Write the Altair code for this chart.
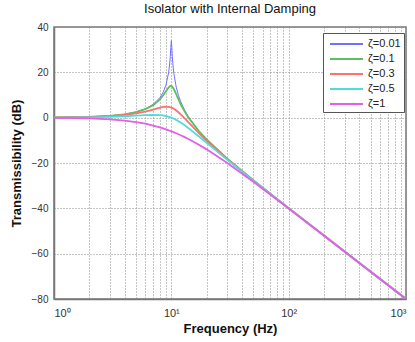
import altair as alt
import pandas as pd

freq = [1, 2, 3, 4, 5, 6, 7, 8, 8.5, 9, 9.5, 9.7, 9.8, 9.9, 10, 10.1, 10.2, 10.3,
        10.5, 11, 11.5, 12, 13, 14, 17, 20, 30, 50, 100, 200, 500, 1000]

t_001 = [0.09, 0.35, 0.82, 1.51, 2.50, 3.88, 5.85, 8.87, 11.12, 14.39, 20.06, 24.12,
         27.10, 31.04, 33.98, 30.91, 26.89, 23.84, 19.61, 13.51, 9.81, 7.12, 3.22,
         0.35, -5.53, -9.54, -18.06, -27.60, -39.91, -52.02, -67.96, -80.00]
t_01 = [0.09, 0.35, 0.80, 1.48, 2.42, 3.73, 5.53, 8.09, 9.75, 11.64, 13.41, 13.86,
        13.98, 14.02, 13.98, 13.85, 13.64, 13.36, 12.63, 10.34, 8.04, 6.00, 2.65,
        0.00, -5.67, -9.62, -18.09, -27.61, -39.92, -52.02, -67.96, -80.00]
t_03 = [0.07, 0.29, 0.65, 1.17, 1.85, 2.68, 3.60, 4.44, 4.72, 4.85, 4.76, 4.66,
        4.59, 4.52, 4.44, 4.35, 4.25, 4.14, 3.90, 3.19, 2.37, 1.48, -0.35,
        -2.11, -6.64, -10.19, -18.28, -27.67, -39.93, -52.02, -67.96, -80.00]
t_05 = [0.04, 0.17, 0.37, 0.63, 0.90, 1.14, 1.25, 1.14, 0.97, 0.73, 0.40, 0.25,
        0.17, 0.09, 0.00, -0.09, -0.18, -0.27, -0.47, -0.98, -1.54, -2.13, -3.36,
        -4.60, -8.10, -11.14, -18.63, -27.79, -39.96, -52.03, -67.96, -80.00]
t_1 = [-0.09, -0.34, -0.75, -1.29, -1.94, -2.67, -3.46, -4.30, -4.72, -5.15, -5.59,
       -5.76, -5.85, -5.93, -6.02, -6.11, -6.20, -6.28, -6.46, -6.89, -7.32, -7.75,
       -8.60, -9.43, -11.80, -13.98, -20.00, -28.30, -40.09, -52.06, -67.96, -80.00]

labels = ["ζ=0.01", "ζ=0.1", "ζ=0.3", "ζ=0.5", "ζ=1"]
series = [t_001, t_01, t_03, t_05, t_1]
colors = ["#7070ff", "#5fbf5f", "#ff7070", "#50dcdc", "#e060e8"]
widths = [1.0, 1.8, 1.8, 1.8, 1.8]

x_grid = [1, 2, 3, 4, 5, 6, 7, 8, 9, 10, 20, 30, 40, 50, 60, 70, 80, 90,
          100, 200, 300, 400, 500, 600, 700, 800, 900, 1000]
y_ticks = [-80, -60, -40, -20, 0, 20, 40]

rows = []
for lab, vals, w in zip(labels, series, widths):
    for f, v in zip(freq, vals):
        rows.append({"f": f, "T": v, "zeta": lab, "w": w})
df = pd.DataFrame(rows)

lines = alt.Chart(df).mark_line(clip=True).encode(
    x=alt.X("f:Q",
            scale=alt.Scale(type="log", domain=[1, 1000], nice=False),
            axis=alt.Axis(values=x_grid, title="Frequency (Hz)",
                          labelExpr="datum.value == 1 ? '10⁰' : datum.value == 10 ? '10¹' : datum.value == 100 ? '10²' : datum.value == 1000 ? '10³' : ''",
                          grid=True, gridDash=[1, 2], gridColor="#8a8a8a",
                          gridOpacity=1, tickSize=0, labelPadding=8,
                          labelFontSize=11, titlePadding=4)),
    y=alt.Y("T:Q",
            scale=alt.Scale(domain=[-80, 40], nice=False),
            axis=alt.Axis(values=y_ticks, title="Transmissibility (dB)",
                          grid=True, gridDash=[1, 2], gridColor="#8a8a8a",
                          gridOpacity=1, tickSize=0, labelPadding=6,
                          titlePadding=8)),
    color=alt.Color("zeta:N", sort=labels,
                    scale=alt.Scale(domain=labels, range=colors),
                    legend=alt.Legend(title=None, orient="none",
                                      legendX=269, legendY=6,
                                      symbolType="M-0.57,0H4.14", symbolSize=196,
                                      symbolStrokeWidth=1.8,
                                      labelFontSize=11, labelColor="#222",
                                      labelFont="Liberation Sans",
                                      strokeColor="#555", fillColor="white",
                                      padding=3, rowPadding=2,
                                      labelOffset=26, offset=0)),
    strokeWidth=alt.StrokeWidth("w:Q", scale=None, legend=None),
    order=alt.Order("f:Q"),
    detail="zeta:N",
)

chart = lines.properties(
    width=352, height=272,
    title=alt.Title("Isolator with Internal Damping", fontSize=13,
                    font="Liberation Sans", fontWeight="normal",
                    color="#111", offset=6),
    autosize=alt.AutoSizeParams(type="none"),
    padding={"left": 54, "top": 27, "right": 9, "bottom": 43},
).configure_view(
    stroke="#777", strokeWidth=1.5
).configure_axis(
    domainColor="#777", domainWidth=1.5,
    labelFont="Liberation Sans", labelFontSize=10, labelColor="#333",
    titleFont="Liberation Sans", titleFontSize=13, titleFontWeight="bold",
    titleColor="#111",
)

chart.save("out.html", embed_options={"renderer": "svg", "actions": False})
